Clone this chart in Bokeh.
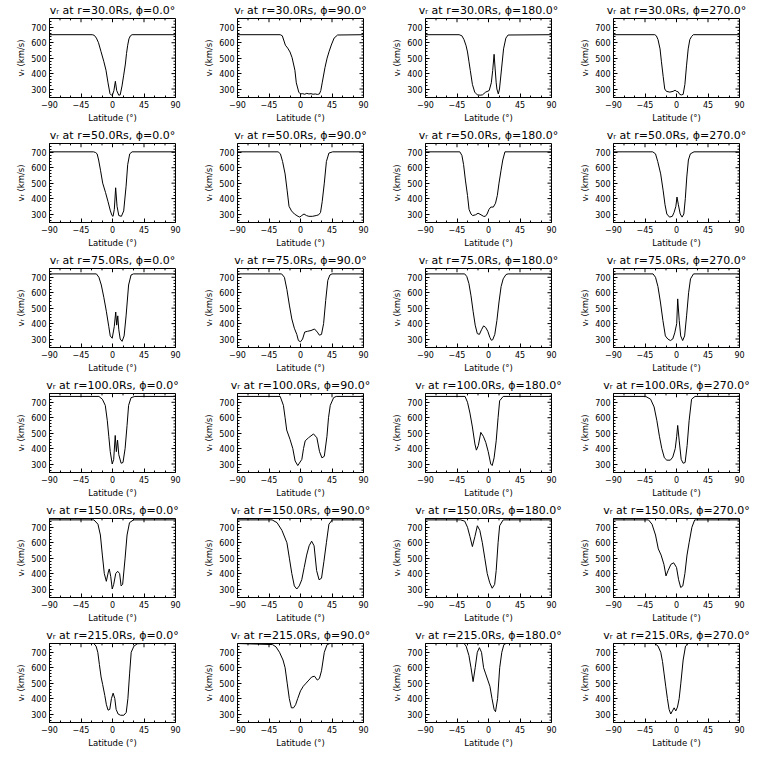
from bokeh.plotting import figure
from bokeh.layouts import gridplot
from bokeh.models import FixedTicker, Range1d
from bokeh.embed import file_html
from bokeh.resources import INLINE

# ---------------- data ----------------
radii = [30.0, 50.0, 75.0, 100.0, 150.0, 215.0]
phis = [0.0, 90.0, 180.0, 270.0]

x_ticks = [-90, -45, 0, 45, 90]
x_tick_labels = ["\u221290", "\u221245", "0", "45", "90"]
y_ticks = [300, 400, 500, 600, 700]
y_tick_labels = ["300", "400", "500", "600", "700"]

# r = 30 Rs
lat_r30_p0 = [-90, -29, -26, -23, -20, -16.5, -12.5, -9.3, -6.4, -3.6, -1.5, 0, 2, 4.1, 6, 8.9, 11, 13.6, 16, 18.4, 20, 21.7, 23.5, 25.6, 28, 90]
v_r30_p0 = [652, 652, 648, 630, 600, 544, 480, 422, 340, 270, 260, 262, 290, 350, 290, 260, 262, 320, 390, 462, 530, 584, 625, 645, 652, 652]
lat_r30_p90 = [-90, -29, -26, -21.6, -18.3, -15, -12, -8, -6, -2.5, 0, 3, 6, 9, 12, 15, 18, 21, 24, 27, 29, 31, 35, 38, 41, 44, 48, 53, 90]
v_r30_p90 = [652, 652, 645, 584, 565, 540, 503, 422, 340, 280, 268, 270, 266, 272, 268, 270, 266, 268, 265, 268, 290, 340, 440, 500, 545, 585, 630, 650, 652]
lat_r30_p180 = [-90, -42, -38, -35, -32, -30, -28, -26, -23, -19.7, -16, -12, -8.7, -4, 1, 4, 6, 8, 9.5, 11, 12, 14, 15.7, 18.6, 21.5, 24.8, 28, 90]
v_r30_p180 = [652, 652, 645, 620, 580, 540, 480, 420, 330, 280, 262, 260, 262, 280, 290, 340, 420, 525, 430, 340, 300, 268, 300, 430, 560, 630, 650, 652]
lat_r30_p270 = [-90, -31, -28.8, -26.4, -23.5, -21.6, -19, -16.8, -14.4, -9.6, -4.8, -2, 0, 2.3, 4.7, 7, 9.5, 12, 14.3, 16.7, 19, 21.5, 24, 90]
v_r30_p270 = [652, 652, 645, 620, 560, 480, 380, 300, 285, 280, 285, 292, 285, 282, 265, 262, 265, 330, 450, 560, 620, 640, 652, 652]

# r = 50 Rs
lat_r50_p0 = [-90, -27, -24, -22, -19.8, -17, -14, -10, -6.4, -3, -0.7, 0.8, 2.6, 4.5, 6.5, 9, 12.7, 16, 19.4, 21.7, 24.6, 28, 90]
v_r50_p0 = [703, 703, 698, 690, 650, 580, 500, 440, 380, 320, 290, 285, 330, 470, 350, 290, 285, 320, 480, 620, 690, 703, 703]
lat_r50_p90 = [-90, -32, -28.7, -25.6, -22, -19, -16.4, -12.8, -8.7, -3.5, -1, 1.7, 5, 8.5, 12, 17, 22.4, 26, 28.6, 31, 34, 37, 40.6, 46, 90]
v_r50_p90 = [703, 703, 690, 640, 560, 450, 350, 320, 300, 285, 280, 290, 300, 290, 285, 285, 290, 295, 310, 380, 500, 640, 695, 703, 703]
lat_r50_p180 = [-90, -41, -38, -35.6, -33, -30, -27.8, -25, -22.6, -18.5, -14.9, -10.7, -7, -4.5, -2, 0.7, 3.3, 6.9, 10, 12.6, 15, 17.8, 20.4, 23.5, 90]
v_r50_p180 = [703, 703, 680, 620, 520, 420, 330, 300, 290, 295, 305, 295, 285, 285, 300, 330, 345, 345, 370, 420, 500, 580, 650, 703, 703]
lat_r50_p270 = [-90, -34, -30, -26.8, -22.6, -19, -16.4, -13.8, -10, -6, -3.5, -0.9, 0.7, 2.7, 5.3, 8, 10.5, 12.6, 14.7, 17, 19.8, 25, 90]
v_r50_p270 = [703, 703, 690, 640, 560, 450, 360, 300, 280, 285, 310, 350, 410, 360, 300, 280, 300, 400, 540, 650, 690, 703, 703]

# r = 75 Rs
lat_r75_p0 = [-90, -23, -19.4, -16, -12.4, -8.8, -5.3, -3.2, -0.4, 2.5, 4.6, 6, 7.5, 9, 11, 13.7, 16.6, 19.4, 23, 26.5, 30, 90]
v_r75_p0 = [722, 722, 700, 650, 570, 480, 380, 320, 305, 380, 475, 390, 450, 360, 300, 285, 320, 450, 650, 715, 722, 722]
lat_r75_p90 = [-90, -27, -23, -19.4, -15.9, -12.4, -8.8, -5.3, -3, 0, 3, 6, 10, 15, 20, 24, 27, 30, 33, 36, 39, 42, 45, 90]
v_r75_p90 = [722, 722, 700, 620, 520, 430, 370, 330, 290, 282, 300, 345, 350, 355, 365, 345, 325, 330, 400, 550, 680, 715, 722, 722]
lat_r75_p180 = [-90, -34, -31, -28, -25, -22, -19, -16, -13, -10, -7, -4, -1, 2, 4, 6, 9, 12, 15, 18, 21, 25, 28, 90]
v_r75_p180 = [722, 722, 705, 660, 580, 480, 390, 335, 330, 360, 385, 375, 350, 310, 292, 295, 330, 420, 540, 640, 690, 718, 722, 722]
lat_r75_p270 = [-90, -33.5, -30, -26.5, -23, -19.4, -15.9, -12.4, -8.8, -5.3, -2.5, 0.3, 1.7, 3.9, 6, 8.8, 11.6, 14.4, 17.3, 20, 24.3, 90]
v_r75_p270 = [722, 722, 700, 640, 540, 420, 320, 300, 290, 300, 340, 400, 560, 420, 320, 290, 320, 450, 600, 690, 722, 722]

# r = 100 Rs
lat_r100_p0 = [-90, -19.4, -14.5, -10.3, -7.4, -5.3, -3.2, -0.4, 1.7, 3.9, 5.5, 7.2, 9, 12.3, 15, 18, 20.8, 23, 26.5, 32, 90]
v_r100_p0 = [738, 738, 720, 680, 580, 480, 380, 300, 330, 485, 380, 455, 360, 305, 310, 400, 550, 680, 730, 738, 738]
lat_r100_p90 = [-90, -29, -24.4, -22, -19.7, -15, -11, -7.7, -3.9, 1.9, 4.3, 6.7, 11.4, 18.6, 23.4, 27.2, 30.6, 34, 37.8, 40, 42.5, 47.3, 51, 90]
v_r100_p90 = [738, 738, 680, 600, 520, 460, 400, 320, 290, 330, 400, 450, 470, 495, 470, 380, 340, 350, 480, 600, 680, 730, 738, 738]
lat_r100_p180 = [-90, -33.5, -30, -26.5, -23, -19.4, -17.3, -14.5, -11, -7.4, -3.9, -0.4, 3.2, 5.3, 8, 11, 13.7, 15.9, 21, 90]
v_r100_p180 = [738, 738, 700, 630, 540, 430, 390, 420, 505, 480, 440, 380, 300, 290, 340, 450, 600, 710, 738, 738]
lat_r100_p270 = [-90, -44, -37, -32, -28, -24.4, -21, -17.3, -13.8, -8.8, -5.3, -1.8, 0.3, 1.7, 3.9, 6.7, 9.5, 12.3, 15.2, 18, 21.5, 26.4, 90]
v_r100_p270 = [738, 738, 720, 670, 580, 480, 400, 340, 325, 325, 345, 400, 480, 550, 450, 330, 305, 310, 420, 580, 720, 738, 738]

# r = 150 Rs
lat_r150_p0 = [-90, -26.5, -20.8, -17.3, -14.5, -11.7, -8.8, -6, -4.6, -2.5, -0.4, 1.7, 4.6, 7.4, 10.2, 12.3, 14.5, 18, 20.8, 24.3, 30, 90]
v_r150_p0 = [748, 748, 720, 650, 520, 400, 350, 410, 430, 380, 300, 330, 400, 415, 400, 320, 330, 500, 650, 730, 748, 748]
lat_r150_p90 = [-90, -40.6, -33.5, -26.5, -19.4, -15.9, -12.4, -8.8, -5.3, -1.8, 1.8, 5.3, 8.8, 12.3, 15.9, 19.4, 23, 26.5, 30, 33.5, 37, 40.6, 45.5, 90]
v_r150_p90 = [748, 748, 730, 680, 600, 500, 400, 320, 300, 320, 360, 440, 520, 580, 610, 580, 420, 360, 370, 480, 600, 720, 748, 748]
lat_r150_p180 = [-90, -40, -34, -30, -26.5, -23, -19.4, -15.9, -12.4, -8.8, -5.3, -1.8, 1.8, 5.3, 8.8, 11, 13.7, 15.9, 21, 90]
v_r150_p180 = [748, 748, 740, 700, 640, 575, 640, 710, 680, 600, 500, 400, 340, 305, 330, 420, 600, 710, 748, 748]
lat_r150_p270 = [-90, -40, -35, -30, -26, -22, -18, -15, -12, -8, -4, 0, 3, 6, 9, 12, 15, 18, 22, 26, 90]
v_r150_p270 = [748, 748, 720, 650, 560, 520, 460, 385, 420, 460, 470, 440, 360, 310, 320, 400, 520, 600, 700, 748, 748]

# r = 215 Rs
lat_r215_p0 = [-90, -26.8, -23.5, -21, -18.7, -16.3, -14, -11, -8.7, -6.3, -3.9, -1.5, 0.9, 3.3, 5.2, 8, 11.4, 16.2, 19.6, 22, 24.4, 26.7, 30.6, 35.4, 42.5, 90]
v_r215_p0 = [757, 757, 740, 700, 620, 540, 490, 420, 360, 325, 330, 400, 435, 400, 330, 300, 292, 292, 310, 400, 560, 700, 740, 755, 757, 757]
lat_r215_p90 = [-90, -40, -35, -30, -25, -22, -19, -16, -13, -10, -7, -4, 0, 4, 8, 12, 16, 20, 24, 27, 30, 34, 38, 42, 90]
v_r215_p90 = [757, 750, 735, 700, 650, 600, 500, 400, 340, 340, 360, 400, 450, 480, 500, 520, 540, 545, 520, 530, 580, 700, 750, 757, 757]
lat_r215_p180 = [-90, -35, -32, -28, -25, -22, -19, -16, -13, -10, -7, -4, -1, 2, 5, 8, 10, 13, 16, 19, 22, 25, 90]
v_r215_p180 = [757, 757, 740, 680, 600, 510, 600, 700, 730, 700, 600, 560, 520, 480, 400, 330, 315, 400, 600, 700, 750, 757, 757]
lat_r215_p270 = [-90, -31, -26.4, -22.5, -20, -17.7, -15.4, -13, -10.6, -8.2, -5.8, -3.4, -1, 1.4, 3.8, 6.2, 9.5, 12.9, 16.7, 90]
v_r215_p270 = [757, 757, 740, 700, 640, 560, 480, 400, 330, 300, 320, 340, 320, 345, 400, 500, 650, 740, 757, 757]

panel_data = [
    [(lat_r30_p0, v_r30_p0), (lat_r30_p90, v_r30_p90), (lat_r30_p180, v_r30_p180), (lat_r30_p270, v_r30_p270)],
    [(lat_r50_p0, v_r50_p0), (lat_r50_p90, v_r50_p90), (lat_r50_p180, v_r50_p180), (lat_r50_p270, v_r50_p270)],
    [(lat_r75_p0, v_r75_p0), (lat_r75_p90, v_r75_p90), (lat_r75_p180, v_r75_p180), (lat_r75_p270, v_r75_p270)],
    [(lat_r100_p0, v_r100_p0), (lat_r100_p90, v_r100_p90), (lat_r100_p180, v_r100_p180), (lat_r100_p270, v_r100_p270)],
    [(lat_r150_p0, v_r150_p0), (lat_r150_p90, v_r150_p90), (lat_r150_p180, v_r150_p180), (lat_r150_p270, v_r150_p270)],
    [(lat_r215_p0, v_r215_p0), (lat_r215_p90, v_r215_p90), (lat_r215_p180, v_r215_p180), (lat_r215_p270, v_r215_p270)],
]

# ---------------- style ----------------
FONT = "DejaVu Sans"
X_LO, X_HI = -90, 90
Y_LO, Y_HI = 245, 757
FRAME_W, FRAME_H = 126, 84
X_MINOR = [-75, -60, -30, -15, 15, 30, 60, 75]
Y_MINOR = [y for y in range(260, 760, 20) if y % 100 != 0]


def style_axis(ax):
    ax.axis_line_color = "black"
    ax.axis_line_width = 1
    ax.major_tick_line_color = "black"
    ax.minor_tick_line_color = "black"
    ax.major_tick_in = 4
    ax.major_tick_out = 0
    ax.minor_tick_in = 2
    ax.minor_tick_out = 0
    ax.major_label_text_font = FONT
    ax.major_label_text_font_size = "8px"
    ax.major_label_text_color = "black"
    ax.major_label_standoff = 3
    ax.axis_label_text_font = FONT
    ax.axis_label_text_font_size = "8.5px"
    ax.axis_label_text_font_style = "normal"
    ax.axis_label_text_color = "black"
    ax.axis_label_standoff = 2


def mirror_ticks(p):
    # inward ticks on the top and right edges (IDL box style)
    dy_major = 4 * (Y_HI - Y_LO) / FRAME_H
    dy_minor = 2 * (Y_HI - Y_LO) / FRAME_H
    dx_major = 4 * (X_HI - X_LO) / FRAME_W
    dx_minor = 2 * (X_HI - X_LO) / FRAME_W
    kw = dict(line_color="black", line_width=1)
    p.segment(x0=x_ticks, y0=[Y_HI] * len(x_ticks), x1=x_ticks,
              y1=[Y_HI - dy_major] * len(x_ticks), **kw)
    p.segment(x0=X_MINOR, y0=[Y_HI] * len(X_MINOR), x1=X_MINOR,
              y1=[Y_HI - dy_minor] * len(X_MINOR), **kw)
    p.segment(x0=[X_HI] * len(y_ticks), y0=y_ticks,
              x1=[X_HI - dx_major] * len(y_ticks), y1=y_ticks, **kw)
    p.segment(x0=[X_HI] * len(Y_MINOR), y0=Y_MINOR,
              x1=[X_HI - dx_minor] * len(Y_MINOR), y1=Y_MINOR, **kw)


def make_panel(r, phi, lat, v):
    p = figure(width=188, height=125,
               x_range=Range1d(X_LO, X_HI), y_range=Range1d(Y_LO, Y_HI),
               output_backend="svg", toolbar_location=None,
               min_border_left=49, min_border_right=13,
               min_border_top=14, min_border_bottom=27)
    p.title.text = f"v\u1d63 at r={r:.1f}Rs, \u03d5={phi:.1f}\u00b0"
    p.title.align = "center"
    p.title.text_font = FONT
    p.title.text_font_size = "11px"
    p.title.text_font_style = "normal"
    p.title.text_color = "black"
    p.title.standoff = 3
    p.title.offset = 0

    p.xgrid.visible = False
    p.ygrid.visible = False
    p.outline_line_color = "black"
    p.outline_line_width = 1
    p.background_fill_color = "white"
    p.border_fill_color = "white"

    p.xaxis.ticker = FixedTicker(ticks=x_ticks, minor_ticks=X_MINOR)
    p.yaxis.ticker = FixedTicker(ticks=y_ticks, minor_ticks=Y_MINOR)
    p.xaxis.major_label_overrides = dict(zip(x_ticks, x_tick_labels))
    p.yaxis.major_label_overrides = dict(zip(y_ticks, y_tick_labels))
    p.xaxis.axis_label = "Latitude (\u00b0)"
    p.yaxis.axis_label = "v\u1d63 (km/s)"
    style_axis(p.xaxis[0])
    style_axis(p.yaxis[0])

    mirror_ticks(p)
    p.line(lat, v, line_color="black", line_width=1)
    return p


rows = []
for i, r in enumerate(radii):
    row = []
    for j, phi in enumerate(phis):
        lat, v = panel_data[i][j]
        row.append(make_panel(r, phi, lat, v))
    rows.append(row)

grid = gridplot(rows, toolbar_location=None)
open("out.html", "w").write(file_html(grid, INLINE))
